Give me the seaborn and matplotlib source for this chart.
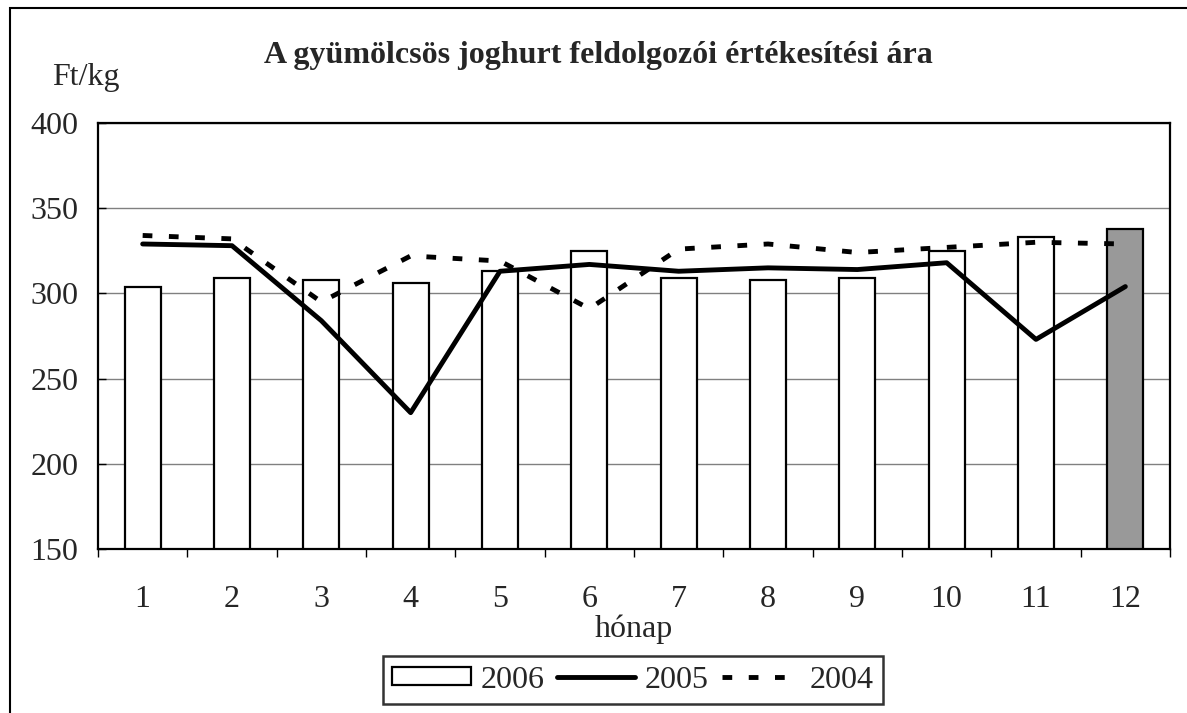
import numpy as np
import pandas as pd
import seaborn as sns
import matplotlib.pyplot as plt
from matplotlib.patches import Patch, Rectangle
from matplotlib.lines import Line2D

# data
months = ['1', '2', '3', '4', '5', '6', '7', '8', '9', '10', '11', '12']
price_2006 = [304, 309, 308, 306, 313, 325, 309, 308, 309, 325, 333, 338]
price_2005 = [329, 328, 284, 230, 313, 317, 313, 315, 314, 318, 273, 304]
price_2004 = [334, 332, 295, 322, 319, 291, 326, 329, 324, 327, 330, 329]
bar_colors = ['white'] * 11 + ['#999999']

sns.set_style('white')
plt.rcParams['font.family'] = ['Liberation Serif', 'DejaVu Serif']

df = pd.DataFrame({'month': months, 'p2006': price_2006})

fs = 23
lw = 3.5
dash = [2.0, 3.4]

fig = plt.figure(figsize=(11.87, 7.13), dpi=100)
ax = fig.add_axes([98 / 1187, 1 - 549 / 713, (1170 - 98) / 1187, (549 - 123) / 713])

sns.barplot(data=df, x='month', y='p2006', hue='month', palette=bar_colors,
            legend=False, width=0.4, edgecolor='black', linewidth=1.6,
            ax=ax, zorder=2)
xs = np.arange(len(months))
sns.lineplot(x=xs, y=price_2005, color='black', linewidth=lw, ax=ax, zorder=3)
sns.lineplot(x=xs, y=price_2004, color='black', linewidth=lw, ax=ax, zorder=3)
ax.lines[-1].set_dashes(dash)

ax.set_xlim(-0.5, 11.5)
ax.set_ylim(150, 400)
ax.set_yticks([150, 200, 250, 300, 350, 400])
ax.yaxis.grid(True, color='#808080', linewidth=1)
ax.set_axisbelow(True)
for s in ax.spines.values():
    s.set_color('black')
    s.set_linewidth(1.6)

ax.set_xticks(xs)
ax.set_xticks(np.arange(-0.5, 12, 1), minor=True)
ax.tick_params(axis='x', which='major', length=0, pad=26, labelsize=fs)
ax.tick_params(axis='x', which='minor', length=6, width=1, direction='out',
               bottom=True, color='black')
ax.tick_params(axis='y', length=6, width=1, direction='in', left=True,
               pad=14, labelsize=fs, color='black')
ax.set_xlabel('hónap', fontsize=fs, labelpad=0)
ax.set_ylabel('')

fig.text(52 / 1187, 1 - 78 / 713, 'Ft/kg', fontsize=fs, ha='left', va='center')
fig.text(598 / 1187, 1 - 55 / 713, 'A gyümölcsös joghurt feldolgozói értékesítési ára',
         fontsize=fs, fontweight='bold', ha='center', va='center')

handles = [Patch(facecolor='white', edgecolor='black', linewidth=1.6),
           Line2D([], [], color='black', linewidth=lw),
           Line2D([], [], color='black', linewidth=lw, dashes=dash)]
leg = fig.legend(handles, ['2006', '2005', '2004'], ncol=3, loc='center',
                 bbox_to_anchor=(633 / 1187, 1 - 680 / 713), fontsize=fs,
                 frameon=True, fancybox=False, handlelength=2.45,
                 handleheight=0.5, handletextpad=0.3, columnspacing=0.4,
                 borderpad=0.3, borderaxespad=0)
leg.get_frame().set_edgecolor('black')
leg.get_frame().set_linewidth(1.8)

# outer frame of the figure
fig.patches.append(Rectangle((10 / 1187, -0.05), 1.1, 1 - 8 / 713 + 0.05,
                             transform=fig.transFigure, fill=False,
                             edgecolor='black', linewidth=1.5))

fig.savefig('out.png', dpi=100)
